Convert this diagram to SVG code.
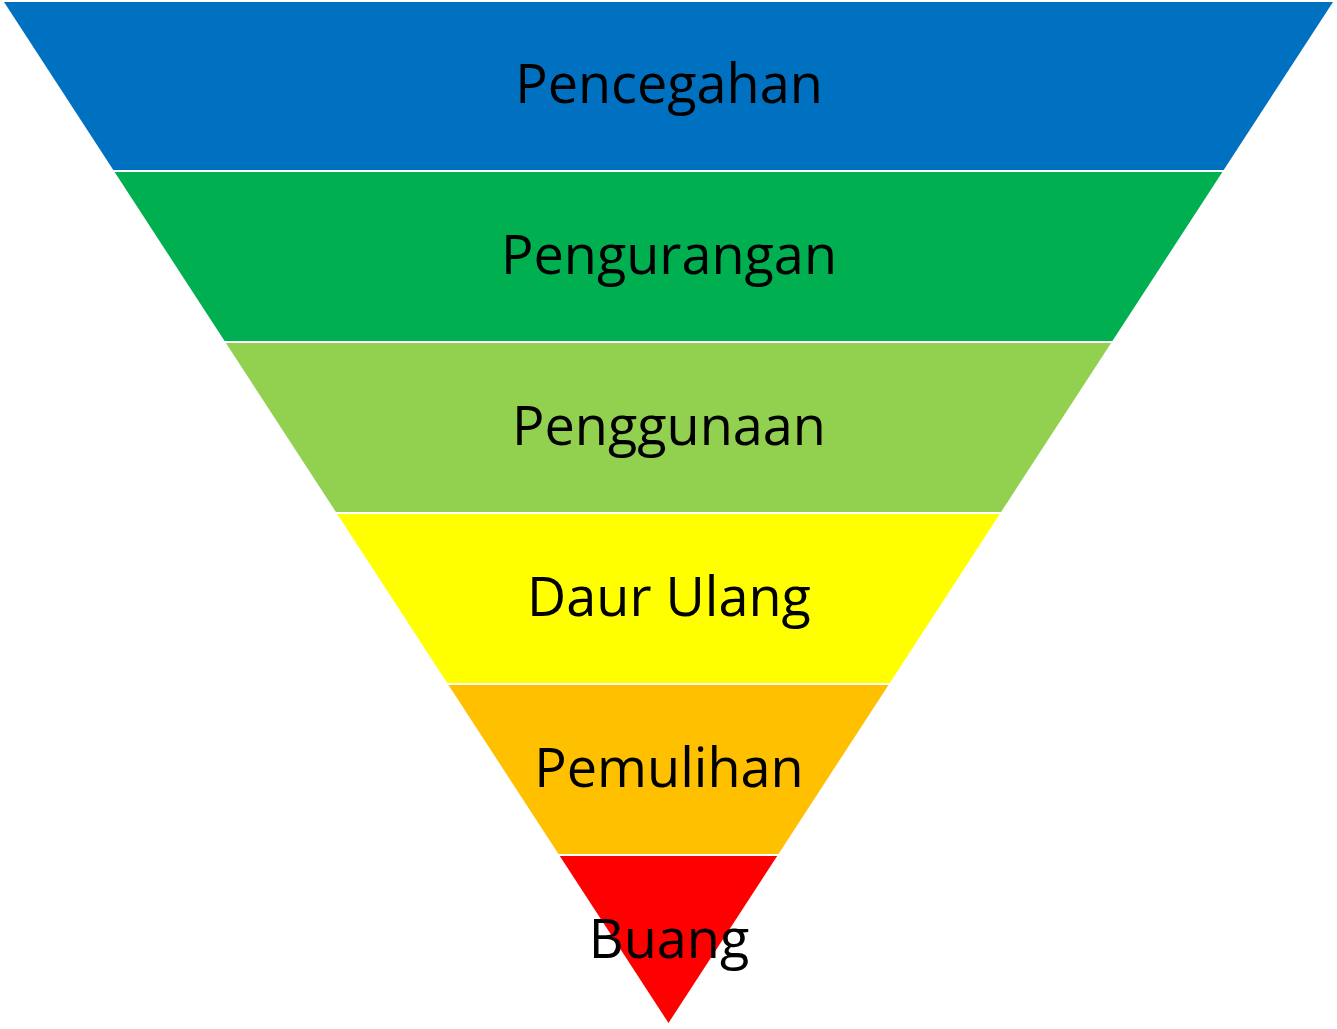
<svg xmlns="http://www.w3.org/2000/svg" width="1337" height="1029" viewBox="0 0 1337 1029">
<style>
.lbl{font-family:"Open Sans","Liberation Sans",sans-serif;font-size:54px;fill:#000;text-anchor:middle}
</style>
<rect width="1337" height="1029" fill="#fff"/>
<g id="level1"><polygon points="4,2 1333,2 1223.7,170 113.3,170" fill="#0070C0"/><text class="lbl" x="669" y="103">Pencegahan</text></g>
<g id="level2"><polygon points="114.6,172 1222.4,172 1112.4,341 224.6,341" fill="#00B050"/><text class="lbl" x="669" y="274">Pengurangan</text></g>
<g id="level3"><polygon points="225.9,343 1111.1,343 1001.1,512 335.9,512" fill="#92D050"/><text class="lbl" x="669" y="445">Penggunaan</text></g>
<g id="level4"><polygon points="337.2,514 999.8,514 889.8,683 447.2,683" fill="#FFFF00"/><text class="lbl" x="669" y="616">Daur Ulang</text></g>
<g id="level5"><polygon points="448.5,685 888.5,685 778.5,854 558.5,854" fill="#FFC000"/><text class="lbl" x="669" y="787">Pemulihan</text></g>
<g id="level6"><polygon points="559.8,856 777.2,856 668.5,1023" fill="#FF0000"/><text class="lbl" x="669" y="958">Buang</text></g>
<g id="connectors"/>
</svg>
